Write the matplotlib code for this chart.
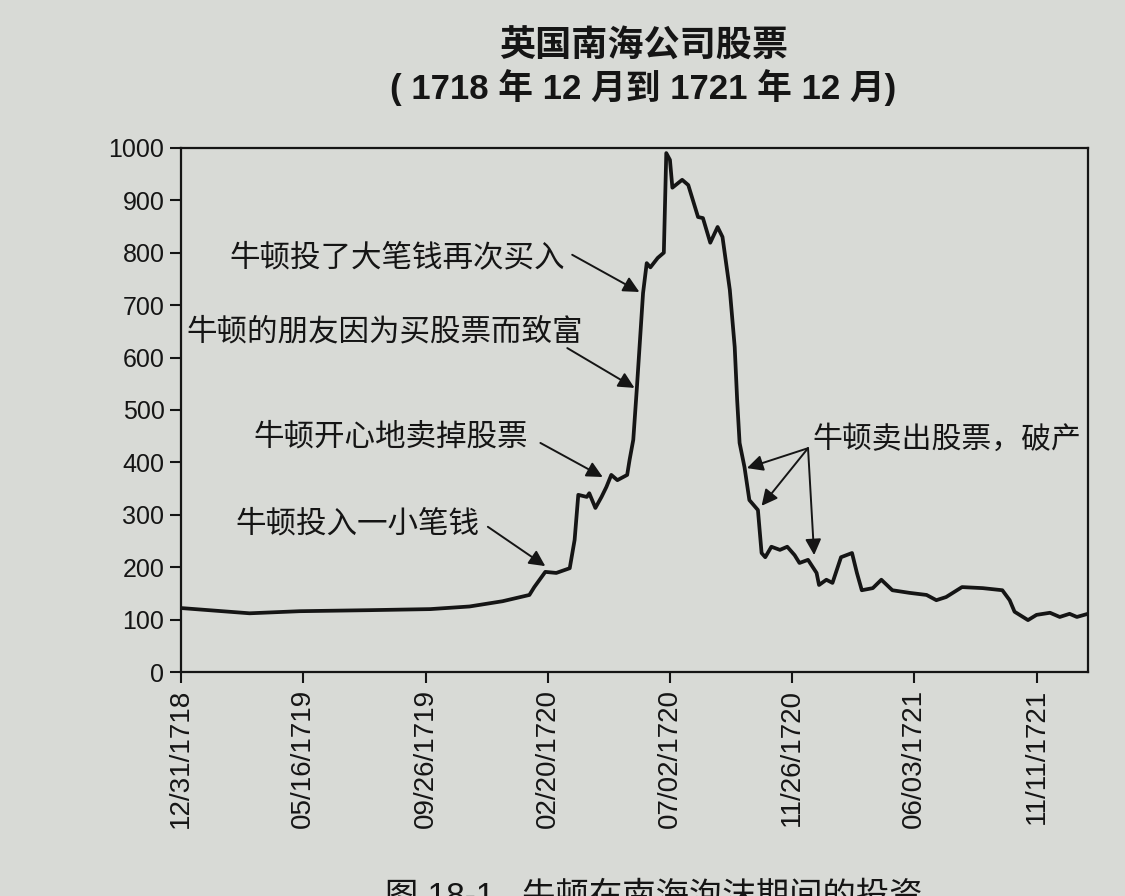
"""South Sea Company stock, Dec 1718 - Dec 1721, with Newton's trades."""
import matplotlib
matplotlib.use("Agg")
import matplotlib.pyplot as plt

# Latin digits in an Arial-like face, CJK from Noto
plt.rcParams['font.family'] = ['Liberation Sans', 'Noto Sans CJK SC', 'DejaVu Sans']

obs = [0, 56, 97, 155, 204, 236, 263, 285, 289, 298, 307, 318, 322, 325,
       332, 334, 339, 344, 348, 352, 357, 365, 367, 370, 373, 378, 381, 384,
       390, 395, 397, 400, 402, 410, 415, 423, 427, 433, 439, 443, 449, 453,
       455, 457, 461, 465, 472, 475, 478, 483, 490, 496, 502, 506, 513, 520,
       522, 528, 533, 540, 549, 553, 557, 566, 573, 582, 596, 610, 618, 626,
       639, 656, 672, 678, 682, 693, 700, 711, 719, 727, 733, 742]
price = [122, 112, 116, 118, 120, 125, 135, 147, 162, 191, 189, 198, 252, 338,
         334, 341, 313, 334, 353, 376, 366, 376, 405, 443, 544, 723, 780, 772,
         790, 800, 990, 977, 924, 939, 929, 868, 866, 819, 849, 830, 729, 620,
         519, 437, 391, 328, 309, 227, 219, 239, 233, 239, 223, 208, 214, 189,
         166, 176, 170, 219, 227, 189, 156, 160, 176, 156, 151, 147, 137, 143,
         162, 160, 156, 137, 115, 99, 109, 113, 105, 111, 105, 111]

tick_pos = [0, 100, 200, 300, 400, 500, 600, 700]
tick_labels = ['12/31/1718', '05/16/1719', '09/26/1719', '02/20/1720',
               '07/02/1720', '11/26/1720', '06/03/1721', '11/11/1721']

# (text, text anchor (x, y), arrow tail, arrow head)
notes = [
    ('牛顿投了大笔钱再次买入', (314, 790), (320, 796), (375, 725)),
    ('牛顿的朋友因为买股票而致富', (329, 647), (316, 618), (371, 542)),
    ('牛顿开心地卖掉股票', (284, 448), (294, 437), (345, 372)),
    ('牛顿投入一小笔钱', (244, 281), (251, 277), (298, 202)),
]
crash_text = '牛顿卖出股票，破产'
crash_text_pos = (517, 443)
crash_tail = (513, 427)
crash_heads = [(463, 389), (475, 317), (518, 223)]

INK = '#151515'
PAPER = '#d8dad6'

fig = plt.figure(figsize=(11.25, 8.96), dpi=100, facecolor=PAPER)
ax = fig.add_axes([0.161, 0.25, 0.806, 0.585], facecolor=PAPER)

ax.plot(obs, price, color=INK, lw=2.7, solid_joinstyle='round')

ax.set_xlim(0, 742)
ax.set_ylim(0, 1000)
ax.set_yticks(range(0, 1001, 100))
ax.set_xticks(tick_pos)
ax.set_xticklabels(tick_labels, rotation=90, fontsize=20, color=INK)
ax.tick_params(axis='y', labelsize=18, labelcolor=INK)
ax.tick_params(direction='out', length=8, width=1.5, color=INK, pad=4)
for s in ax.spines.values():
    s.set_color(INK)
    s.set_linewidth(1.6)

arrow = dict(arrowstyle='-|>', color=INK, lw=1.4, mutation_scale=24,
             shrinkA=0, shrinkB=0)
for text, tpos, tail, head in notes:
    ax.text(tpos[0], tpos[1], text, ha='right', va='center', fontsize=22,
            fontweight='medium', color=INK)
    ax.annotate('', xy=head, xytext=tail, arrowprops=arrow)

ax.text(crash_text_pos[0], crash_text_pos[1], crash_text, ha='left',
        va='center', fontsize=21.5, fontweight='medium', color=INK)
for head in crash_heads:
    ax.annotate('', xy=head, xytext=crash_tail, arrowprops=arrow)

fig.text(0.572, 0.947, '英国南海公司股票', ha='center', va='center',
         fontsize=26, fontweight='bold', color=INK)
fig.text(0.572, 0.902, '( 1718 年 12 月到 1721 年 12 月)', ha='center',
         va='center', fontsize=25, fontweight='bold', color=INK)
fig.text(0.342, 0.016, '图 18-1   牛顿在南海泡沫期间的投资', ha='left',
         va='top', fontsize=24, color=INK)

fig.savefig('out.png', dpi=100, facecolor=PAPER)
